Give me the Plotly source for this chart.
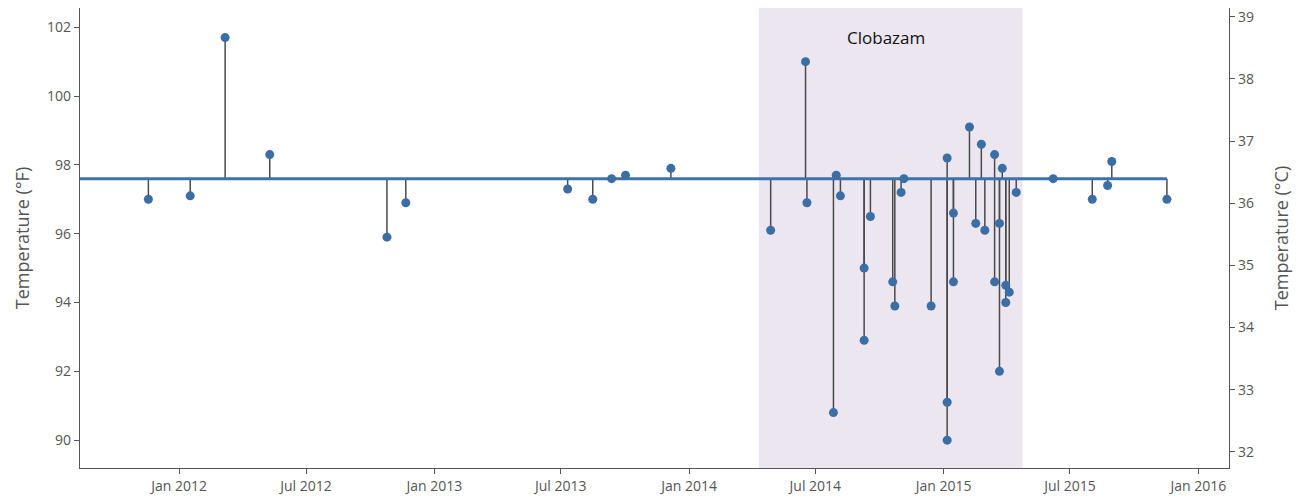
import plotly.graph_objects as go

# ---- data ----
dates = [
    "2011-11-18", "2012-01-17", "2012-03-07", "2012-05-10", "2012-10-25", "2012-11-21",
    "2013-07-11", "2013-08-16", "2013-09-12", "2013-10-02", "2013-12-06",
    "2014-04-28", "2014-06-17", "2014-06-19", "2014-07-27", "2014-07-31", "2014-08-06",
    "2014-09-09", "2014-09-09", "2014-09-18", "2014-10-20", "2014-10-23", "2014-11-01",
    "2014-11-05", "2014-12-14", "2015-01-06", "2015-01-06", "2015-01-06", "2015-01-15",
    "2015-01-15", "2015-02-07", "2015-02-16", "2015-02-24", "2015-03-01", "2015-03-15",
    "2015-03-15", "2015-03-22", "2015-03-22", "2015-03-26", "2015-03-31", "2015-03-31",
    "2015-04-05", "2015-04-15",
    "2015-06-07", "2015-08-02", "2015-08-24", "2015-08-30", "2015-11-17",
]
temps_f = [
    97.0, 97.1, 101.7, 98.3, 95.9, 96.9,
    97.3, 97.0, 97.6, 97.7, 97.9,
    96.1, 101.0, 96.9, 90.8, 97.7, 97.1,
    95.0, 92.9, 96.5, 94.6, 93.9, 97.2,
    97.6, 93.9, 98.2, 91.1, 90.0, 96.6,
    94.6, 99.1, 96.3, 98.6, 96.1, 98.3,
    94.6, 96.3, 92.0, 97.9, 94.5, 94.0,
    94.3, 97.2,
    97.6, 97.0, 97.4, 98.1, 97.0,
]
BASELINE_F = 97.6
treatment_label = "Clobazam"
treatment_start = "2014-04-11"
treatment_end = "2015-04-24"

x_range = ["2011-08-12", "2016-02-14"]
yF_range = [89.19, 102.56]
yC_range = [31.74, 39.14]

POINT_COLOR = "#3b6ea5"
BASE_COLOR = "#3d72ad"
STEM_COLOR = "#4a4a4a"
AXIS_COLOR = "#555555"
FONT = "Open Sans"

# stems built from the data
stem_x, stem_y = [], []
for d, v in zip(dates, temps_f):
    stem_x += [d, d, None]
    stem_y += [BASELINE_F, v, None]

fig = go.Figure()
fig.add_vrect(x0=treatment_start, x1=treatment_end, fillcolor="#ebe6f0",
              line_width=0, layer="below")
fig.add_trace(go.Scatter(x=stem_x, y=stem_y, mode="lines",
                         line=dict(color=STEM_COLOR, width=1.5),
                         hoverinfo="skip", showlegend=False))
fig.add_trace(go.Scatter(x=[x_range[0], dates[-1]], y=[BASELINE_F, BASELINE_F],
                         mode="lines", line=dict(color=BASE_COLOR, width=3),
                         hoverinfo="skip", showlegend=False))
fig.add_trace(go.Scatter(x=dates, y=temps_f, mode="markers",
                         marker=dict(color=POINT_COLOR, size=9),
                         showlegend=False))
# invisible trace for Celsius axis
fig.add_trace(go.Scatter(x=[dates[0]], y=[(temps_f[0] - 32) / 1.8], yaxis="y2",
                         mode="markers", marker=dict(opacity=0), hoverinfo="skip",
                         showlegend=False))

fig.add_annotation(x="2014-10-11", y=101.7, text=treatment_label, showarrow=False,
                   font=dict(family=FONT, size=17, color="#111111"))

axis_common = dict(showline=True, linecolor=AXIS_COLOR, linewidth=1.2,
                   ticks="outside", tickcolor=AXIS_COLOR, ticklen=5,
                   showgrid=False, zeroline=False, automargin=False,
                   ticklabeloverflow="allow",
                   tickfont=dict(family=FONT, size=14, color="#555555"))

# page body has an 8px default margin, so the figure is sized to fit the window
fig.update_layout(
    width=1296, height=492,
    margin=dict(l=72, r=75, t=0, b=32),
    paper_bgcolor="white", plot_bgcolor="white",
    font=dict(family=FONT, color="#555555"),
    xaxis=dict(range=x_range, type="date", tick0="2012-01-01", dtick="M6",
               tickformat="%b %Y", **axis_common),
    yaxis=dict(range=yF_range, dtick=2,
               title=dict(text="Temperature (°F)", standoff=12,
                          font=dict(family=FONT, size=18, color="#555555")),
               **axis_common),
    yaxis2=dict(range=yC_range, dtick=1, overlaying="y", side="right",
                title=dict(text="Temperature (°C)", standoff=22,
                           font=dict(family=FONT, size=18, color="#555555")),
                **axis_common),
)

fig.write_html("out.html")
